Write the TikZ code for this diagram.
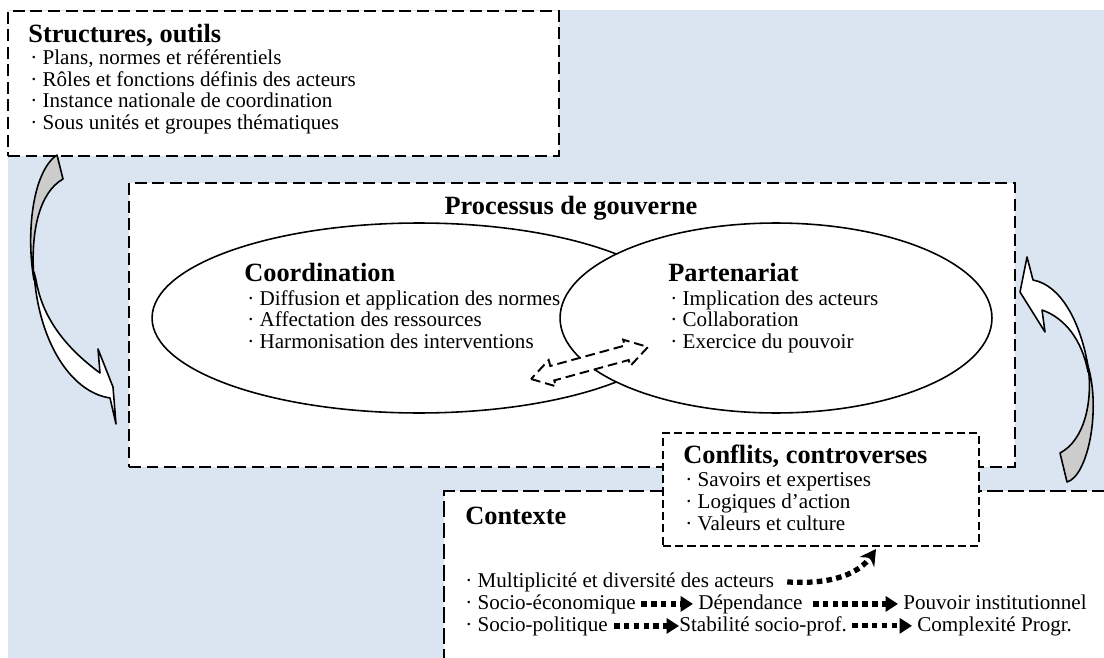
\documentclass[tikz,border=0pt]{standalone}
\usepackage{fontspec}
\setmainfont{Liberation Serif}
\usetikzlibrary{shapes.geometric,arrows.meta}
\definecolor{bgblue}{HTML}{DBE5F1}
\definecolor{twistgray}{HTML}{CCCCCC}
\tikzset{
  ttl/.style={font=\fontsize{15}{18}\selectfont\bfseries, inner sep=0pt, anchor=base west},
  itm/.style={font=\fontsize{12}{14}\selectfont, inner sep=0pt, anchor=base west},
  bigbox/.style={draw, fill=white, line width=1.1pt, dash pattern=on 6.8pt off 3.2pt, anchor=north west, inner sep=0pt},
  ctxbox/.style={draw, fill=white, line width=1.1pt, dash pattern=on 9pt off 3pt, anchor=north west, inner sep=0pt},
  smallbox/.style={draw, fill=white, line width=1.0pt, dash pattern=on 4.6pt off 2.4pt, anchor=north west, inner sep=0pt},
  oval/.style={ellipse, draw, fill=white, line width=0.9pt, inner sep=0pt},
  twist/.style={line width=0.9pt, line join=round},
  dotarr/.style={line width=3pt, dash pattern=on 3.2pt off 2.4pt, -{Triangle[length=7pt,width=8.5pt]}},
  dotcurve/.style={line width=3pt, dash pattern=on 3.2pt off 2.4pt, -{Stealth[length=9pt,width=10pt]}}
}
\begin{document}
\begin{tikzpicture}[x=0.02cm,y=-0.02cm]
\useasboundingbox (0,0) rectangle (1104,658);
\clip (0,0) rectangle (1104,658);
% background
\fill[bgblue] (8,10) rectangle (1104,658);

% boxes
\node[bigbox, minimum width=11.02cm, minimum height=2.9cm] (struct) at (7,10) {};
\node[bigbox, minimum width=17.72cm, minimum height=5.68cm] (proc) at (128,182) {};

% ellipses
\node[oval, minimum width=10.68cm, minimum height=3.8cm] (coord) at (419,318) {};
\node[oval, minimum width=8.64cm, minimum height=3.8cm] (part) at (776,318) {};

% dashed double arrow
\begin{scope}[shift={(589.5,363)}, rotate=15.3]
\filldraw[fill=white, line width=1.1pt, dash pattern=on 5.5pt off 2.8pt]
  (-60.6,0) -- (-38.6,13.6) -- (-38.6,7.5) -- (38.6,7.5) -- (38.6,13.6) -- (60.6,0)
  -- (38.6,-13.6) -- (38.6,-7.5) -- (-38.6,-7.5) -- (-38.6,-13.6) -- cycle;
\end{scope}

\node[ctxbox, minimum width=13.6cm, minimum height=3.8cm] (ctx) at (443,490) {};
\node[smallbox, minimum width=6.32cm, minimum height=2.26cm] (conf) at (662,432) {};

% left curved arrow
\filldraw[fill=twistgray, twist] (57,155) -- (63,179) .. controls (40,192) and (30,230) .. (34,280)
  .. controls (26,235) and (32,172) .. (57,155) -- cycle;
\filldraw[fill=white, twist] (34,272) .. controls (38,340) and (70,392) .. (110,398) -- (116,424)
  -- (113,387) -- (98,349) -- (100,373) .. controls (62,345) and (42,315) .. (36,280) -- cycle;

% right curved arrow
\filldraw[fill=twistgray, twist] (1060,453) -- (1067,482) .. controls (1088,476) and (1101,410) .. (1088,366)
  .. controls (1093,400) and (1085,440) .. (1060,453) -- cycle;
\filldraw[fill=white, twist] (1088,366) .. controls (1080,320) and (1060,285) .. (1033,280) -- (1027,257)
  -- (1020,292) -- (1045,332) -- (1042,310) .. controls (1065,318) and (1082,340) .. (1088,372) -- cycle;

% Structures text
\node[ttl] (structT) at (28,43) {Structures, outils};
\node[itm] (st1) at (30,65) {· Plans, normes et référentiels};
\node[itm] (st2) at (30,86.5) {· Rôles et fonctions définis des acteurs};
\node[itm] (st3) at (30,108) {· Instance nationale de coordination};
\node[itm] (st4) at (30,129.5) {· Sous unités et groupes thématiques};

% Processus
\node[ttl, anchor=base] (procT) at (571,215) {Processus de gouverne};
\node[ttl] (coordT) at (244,281) {Coordination};
\node[itm] (co1) at (247,305) {· Diffusion et application des normes};
\node[itm] (co2) at (247,326.5) {· Affectation des ressources};
\node[itm] (co3) at (247,348) {· Harmonisation des interventions};
\node[ttl] (partT) at (668,281) {Partenariat};
\node[itm] (pa1) at (670,305) {· Implication des acteurs};
\node[itm] (pa2) at (670,326.5) {· Collaboration};
\node[itm] (pa3) at (670,348) {· Exercice du pouvoir};

% Conflits
\node[ttl] (confT) at (683,463) {Conflits, controverses};
\node[itm] (cf1) at (685,486) {· Savoirs et expertises};
\node[itm] (cf2) at (685,508) {· Logiques d’action};
\node[itm] (cf3) at (685,530) {· Valeurs et culture};

% Contexte
\node[ttl] (ctxT) at (465,524) {Contexte};
\node[itm] (mult) at (465,587) {· Multiplicité et diversité des acteurs};
\node[itm] (seco) at (465,609) {· Socio-économique};
\node[itm] (dep) at (698,609) {Dépendance};
\node[itm] (pouv) at (903,609) {Pouvoir institutionnel};
\node[itm] (spol) at (465,631) {· Socio-politique};
\node[itm] (stab) at (679,631) {Stabilité socio-prof.};
\node[itm] (cplx) at (917,631) {Complexité Progr.};
\coordinate (ctip) at (876,549);

\draw[dotarr] ([xshift=0.1cm]seco.east) -- ([xshift=-0.1cm]dep.west |- seco.east);
\draw[dotarr] ([xshift=0.2cm]dep.east) -- ([xshift=-0.1cm]pouv.west |- dep.east);
\draw[dotarr] ([xshift=0.12cm]spol.east) -- (stab.west |- spol.east);
\draw[dotarr] ([xshift=0.1cm]stab.east) -- ([xshift=-0.1cm]cplx.west |- stab.east);
\draw[dotcurve] ([xshift=0.26cm]mult.east) .. controls (835,585) and (860,572) .. (ctip);
\end{tikzpicture}
\end{document}
